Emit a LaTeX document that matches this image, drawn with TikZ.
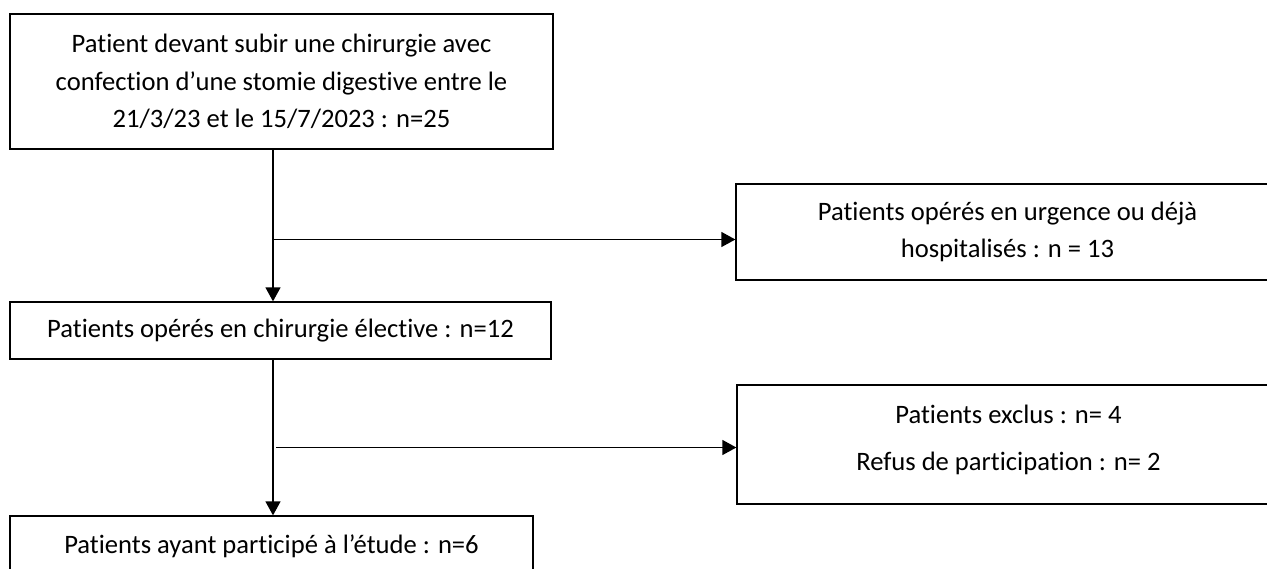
\documentclass[tikz,border=0pt]{standalone}
\usepackage{fontspec}
\setmainfont{Carlito}[Ligatures=NoCommon]
\usetikzlibrary{arrows.meta}

\begin{document}
\begin{tikzpicture}[x=1pt, y=-1pt,
    stage/.style={draw, line width=1.3pt, align=center, inner sep=0pt,
      minimum width=543pt, font=\fontsize{26.6}{37.5}\selectfont},
    flow/.style={line width=1.3pt, -{Triangle[length=14pt, width=15pt]}},
  ]
    \clip (0, 0) rectangle (1267, 568);
    \node[stage, minimum height=135pt] (screened) at (281.5, 81.5)
      {Patient devant subir une chirurgie avec\\
       confection d’une stomie digestive entre le\\
       21/3/23 et le 15/7/2023 : n=25};
    \node[stage, minimum height=96pt] (urgent) at (1007.5, 232)
      {Patients opérés en urgence ou déjà\\hospitalisés : n = 13};
    \node[stage, minimum width=541pt, minimum height=57pt] (elective) at (280.5, 330.5)
      {Patients opérés en chirurgie élective : n=12};
    \node[stage, minimum height=119pt] (excluded) at (1008.5, 444.5)
      {Patients exclus : n= 4\\[9.5pt]Refus de participation : n= 2\\[-23.5pt]};
    \node[stage, minimum width=523pt, minimum height=60pt] (included) at (271.5, 546)
      {Patients ayant participé à l’étude : n=6};
    % main line
    \coordinate (spine) at (273, 0);
    \draw[flow] (screened.south -| spine) -- (elective.north -| spine);
    \draw[flow] (elective.south -| spine) -- (included.north -| spine);
    % side branches
    \coordinate (fork1) at (273, 239.5);
    \coordinate (fork2) at (276, 447.5);
    \draw[flow] (fork1) -- (fork1 -| urgent.west);
    \draw[flow] (fork2) -- (fork2 -| excluded.west);
  \end{tikzpicture}
\end{document}
